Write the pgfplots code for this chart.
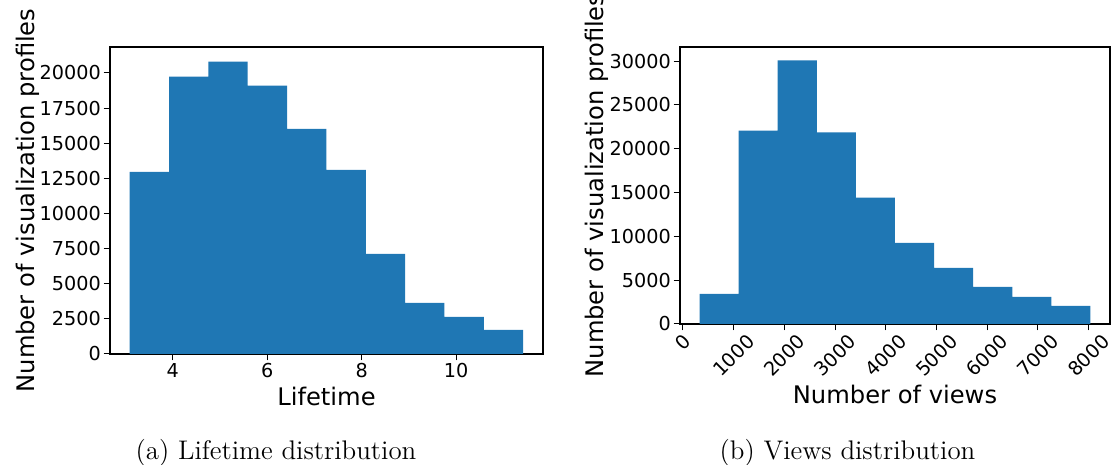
\documentclass[border=0pt]{standalone}
\usepackage{fontspec}
\usepackage{graphicx}
\usepackage{pgfplots}
\pgfplotsset{compat=1.18}
\newfontfamily\dejavu{DejaVu Sans}
\definecolor{histblue}{HTML}{1F77B4}

\newcommand\tickfont{\dejavu\fontsize{9.6}{11}\selectfont}
\newcommand\labelfont{\dejavu\fontsize{12.1}{14}\selectfont}
\newcommand\captionfont{\fontsize{13.45}{16}\selectfont}

\pgfplotsset{
  histaxis/.style={
    scale only axis,
    axis line style={line width=0.6pt},
    tick style={black, line width=0.5pt},
    tick align=outside,
    major tick length=3.2pt,
    xtick pos=left,
    ytick pos=left,
    tick label style={font=\tickfont, inner sep=1.2pt},
    /pgf/number format/assume math mode=true,
    /pgf/number format/1000 sep={},
    scaled ticks=false,
    ymin=0,
  }
}

\begin{document}
\begin{tikzpicture}

% (a) lifetime histogram
\begin{axis}[histaxis,
  at={(55pt,55.5pt)}, anchor=south west,
  width=216.5pt, height=153.5pt,
  xmin=2.67, xmax=11.84, ymax=21850,
  xtick={4,6,8,10},
  ytick={0,2500,5000,7500,10000,12500,15000,17500,20000},
  xlabel={Lifetime},
  ylabel={Number of visualization profiles},
  every axis x label/.style={at={(axis description cs:0.5,-0.137)}, anchor=center, font=\labelfont},
  every axis y label/.style={at={(axis description cs:-0.189,0.5)}, rotate=90, anchor=center, font=\labelfont},
]
\addplot[ybar interval, fill=histblue, draw=none] coordinates {
  (3.087,12970) (3.920,19740) (4.753,20810) (5.587,19100) (6.420,16030)
  (7.253,13110) (8.087,7130) (8.920,3630) (9.753,2640) (10.587,1710)
  (11.420,1710)
};
\end{axis}

% (b) views histogram
\begin{axis}[histaxis,
  at={(340pt,70.5pt)}, anchor=south west,
  width=215pt, height=138.5pt,
  xmin=-59, xmax=8424, ymax=31600,
  xtick={0,1000,2000,3000,4000,5000,6000,7000,8000},
  ytick={0,5000,10000,15000,20000,25000,30000},
  xticklabel={\rotatebox{45}{\pgfmathprintnumber{\tick}}},
  xlabel={Number of views},
  ylabel={Number of visualization profiles},
  every axis x label/.style={at={(axis description cs:0.5,-0.256)}, anchor=center, font=\labelfont},
  every axis y label/.style={at={(axis description cs:-0.193,0.5)}, rotate=90, anchor=center, font=\labelfont},
]
\addplot[ybar interval, fill=histblue, draw=none] coordinates {
  (327,3430) (1098,22070) (1869,30080) (2640,21850) (3411,14410)
  (4182,9260) (4954,6400) (5725,4230) (6496,3090) (7267,2060)
  (8038,2060)
};
\end{axis}

\node[anchor=base, font=\captionfont] at (138pt,2.75pt) {(a) Lifetime distribution};
\node[anchor=base, font=\captionfont] at (423.75pt,2.75pt) {(b) Views distribution};

\pgfresetboundingbox
\useasboundingbox (0,0) rectangle (557pt,232.5pt);
\end{tikzpicture}
\end{document}
